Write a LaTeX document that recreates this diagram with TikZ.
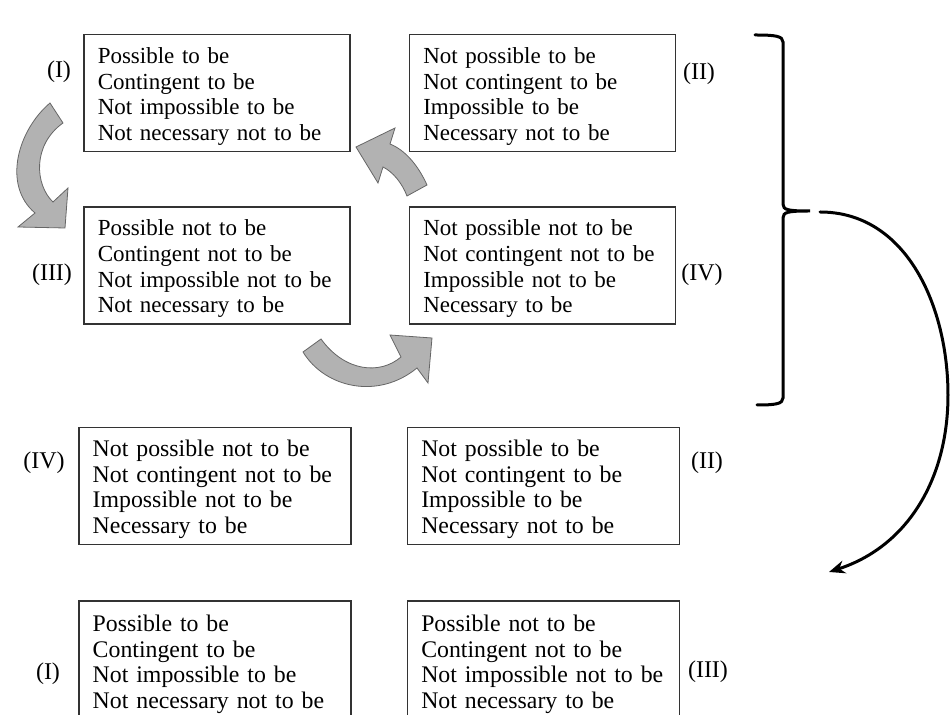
\documentclass[tikz,border=0pt]{standalone}
\usepackage{fontspec}
\setmainfont{Liberation Serif}
\usetikzlibrary{positioning,arrows.meta}

\newcommand{\firststrut}{\rule{0pt}{12.5pt}}
\newcommand{\fourlines}[4]{\begin{tabular}{@{}l@{}}\firststrut #1\\#2\\#3\\#4\end{tabular}}

\tikzset{
  modbox/.style={draw=black!80, line width=0.75pt, align=left, inner xsep=7pt,
    inner ysep=0pt, text width=119pt, minimum height=58.5pt,
    font=\fontsize{11.5}{12.85}\selectfont},
  widebox/.style={modbox, text width=122pt, font=\fontsize{11.9}{12.85}\selectfont},
  tag/.style={inner sep=0pt, font=\fontsize{12}{12.85}\selectfont},
  turn/.style={fill=gray!60, draw=black!60, line width=0.4pt},
  bracket/.style={line width=1.5pt, line cap=round},
}

\begin{document}
\begin{tikzpicture}[x=0.5pt, y=-0.5pt]
  \useasboundingbox (0,0) rectangle (950,715);
  \clip (0,0) rectangle (950,715);

  % square of modalities
  \node (boxI) [modbox, anchor=north west] at (83,34)
    {\fourlines{Possible to be}{Contingent to be}{Not impossible to be}{Not necessary not to be}};
  \node (boxII) [modbox, right=29pt of boxI]
    {\fourlines{Not possible to be}{Not contingent to be}{Impossible to be}{Necessary not to be}};
  \node (boxIII) [modbox, below=27pt of boxI]
    {\fourlines{Possible not to be}{Contingent not to be}{Not impossible not to be}{Not necessary to be}};
  \node (boxIV) [modbox, below=27pt of boxII]
    {\fourlines{Not possible not to be}{Not contingent not to be}{Impossible not to be}{Necessary to be}};

  \node (tI) [tag] at (59,72) {(I)};
  \node (tII) [tag] at (699,74) {(II)};
  \node (tIII) [tag] at (52,275) {(III)};
  \node (tIV) [tag] at (702,275) {(IV)};

  % rearranged square
  \node (botIV) [widebox, anchor=north west] at (78,427)
    {\fourlines{Not possible not to be}{Not contingent not to be}{Impossible not to be}{Necessary to be}};
  \node (botII) [widebox, right=27.5pt of botIV]
    {\fourlines{Not possible to be}{Not contingent to be}{Impossible to be}{Necessary not to be}};
  \node (botI) [widebox, below=27.5pt of botIV.south west, anchor=north west, minimum height=60pt]
    {\fourlines{Possible to be}{Contingent to be}{Not impossible to be}{Not necessary not to be}};
  \node (botIII) [widebox, below=27.5pt of botII.south west, anchor=north west, minimum height=60pt]
    {\fourlines{Possible not to be}{Contingent not to be}{Not impossible not to be}{Not necessary to be}};

  \node (bIV) [tag] at (44,463) {(IV)};
  \node (bII) [tag] at (707,463) {(II)};
  \node (bI) [tag] at (48,674) {(I)};
  \node (bIII) [tag] at (708,672) {(III)};

  % grey turning arrows
  \draw[turn] (50,103) .. controls (18,130) and (2,185) .. (35,213) -- (18,227) -- (65,228)
    -- (68,188) -- (53,202) .. controls (35,185) and (32,145) .. (63,123) -- cycle;
  \draw[turn] (427,185) .. controls (418,165) and (405,150) .. (390,144) -- (395,128) -- (356,147)
    -- (378,183) -- (383,167) .. controls (393,172) and (402,183) .. (407,196) -- cycle;
  \draw[turn] (303,352) .. controls (325,388) and (378,400) .. (417,368) -- (428,383) -- (432,338)
    -- (390,335) -- (401,357) .. controls (380,375) and (345,372) .. (321,339) -- cycle;

  % bracket and swing to the lower square
  \coordinate (bracetip) at (810,211);
  \coordinate (arcstart) at (820,212);
  \coordinate (arcside) at (948,395);
  \coordinate (arcend) at (829,572);

  \draw[bracket] (755,35) .. controls (775,35) and (783,36) .. (783,42) -- (783,204)
    .. controls (783,210) and (788,211) .. (bracetip)
    .. controls (788,211) and (783,212) .. (783,218) -- (783,398)
    .. controls (783,404) and (775,405) .. (757,405);
  \draw[bracket, -{Stealth[length=8pt, width=6.5pt]}]
    (arcstart) to[out=0, in=90] (arcside) to[out=-90, in=18] (arcend);

\end{tikzpicture}
\end{document}
